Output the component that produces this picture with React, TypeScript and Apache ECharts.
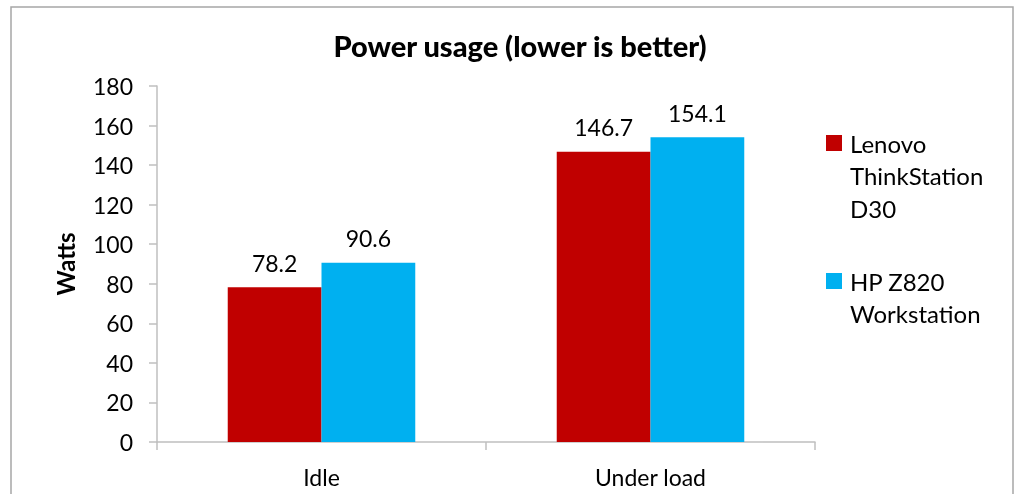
import React, { useEffect, useRef } from "react";
import * as echarts from "echarts";

const categories = ["Idle", "Under load"];
const seriesNames = ["Lenovo ThinkStation D30", "HP Z820 Workstation"];
const legendLines = [["Lenovo", "ThinkStation", "D30"], ["HP Z820", "Workstation"]];
const lenovoValues = [78.2, 146.7];
const hpValues = [90.6, 154.1];
const colors = ["#C00000", "#00B0F0"];

const FONT = "Lato";

export default function App() {
  const ref = useRef<HTMLDivElement>(null);
  useEffect(() => {
    document.body.style.margin = "0";
    const chart = echarts.init(ref.current!, null, { renderer: "svg" });
    const legendGraphics: any[] = [];
    const legendCenters = [143, 281];
    legendLines.forEach((lines, i) => {
      legendGraphics.push({
        type: "rect",
        shape: { x: 826, y: legendCenters[i] - 8, width: 16, height: 16 },
        style: { fill: colors[i] },
      });
      lines.forEach((ln, j) => {
        legendGraphics.push({
          type: "text",
          x: 850,
          y: legendCenters[i] + j * 32.5,
          style: {
            text: ln,
            fill: "#000",
            font: `24px ${FONT}`,
            verticalAlign: "middle",
            align: "left",
          },
        });
      });
    });
    const labelCfg = {
      show: true,
      position: "top",
      distance: 13,
      color: "#000",
      fontFamily: FONT,
      fontSize: 23,
    };
    chart.setOption({
      animation: false,
      title: {
        text: "Power usage (lower is better)",
        left: 515,
        top: 26,
        textAlign: "center",
        textStyle: { fontFamily: FONT, fontWeight: 900, fontSize: 29, color: "#000" },
      },
      grid: { left: 157, right: 202, top: 86, bottom: 52 },
      xAxis: {
        type: "category",
        data: categories,
        axisLine: { lineStyle: { color: "#BFBFBF", width: 1.5 } },
        axisTick: { show: true, length: 8, lineStyle: { color: "#BFBFBF", width: 1.5 } },
        axisLabel: { color: "#000", fontFamily: FONT, fontSize: 23, margin: 23 },
      },
      yAxis: {
        type: "value",
        min: 0,
        max: 180,
        interval: 20,
        name: "Watts",
        nameLocation: "middle",
        nameGap: 80,
        nameTextStyle: { fontFamily: FONT, fontWeight: "bold", fontSize: 24, color: "#000" },
        axisLine: { show: true, lineStyle: { color: "#BFBFBF", width: 1.5 } },
        axisTick: { show: true, length: 8, lineStyle: { color: "#BFBFBF", width: 1.5 } },
        splitLine: { show: false },
        axisLabel: { color: "#000", fontFamily: FONT, fontSize: 23, margin: 24 },
      },
      series: [
        {
          name: seriesNames[0],
          type: "bar",
          data: lenovoValues,
          itemStyle: { color: colors[0] },
          barGap: "0%",
          barCategoryGap: "43%",
          label: labelCfg,
        },
        {
          name: seriesNames[1],
          type: "bar",
          data: hpValues,
          itemStyle: { color: colors[1] },
          barGap: "0%",
          barCategoryGap: "43%",
          label: labelCfg,
        },
      ],
      graphic: [
        {
          type: "rect",
          shape: { x: 11, y: 7, width: 1002, height: 520 },
          style: { fill: "none", stroke: "#A6A6A6", lineWidth: 1.5 },
        },
        ...legendGraphics,
      ],
    });
    return () => chart.dispose();
  }, []);
  return <div ref={ref} style={{ position: "fixed", left: 0, top: 0, width: 1017, height: 494 }} />;
}
